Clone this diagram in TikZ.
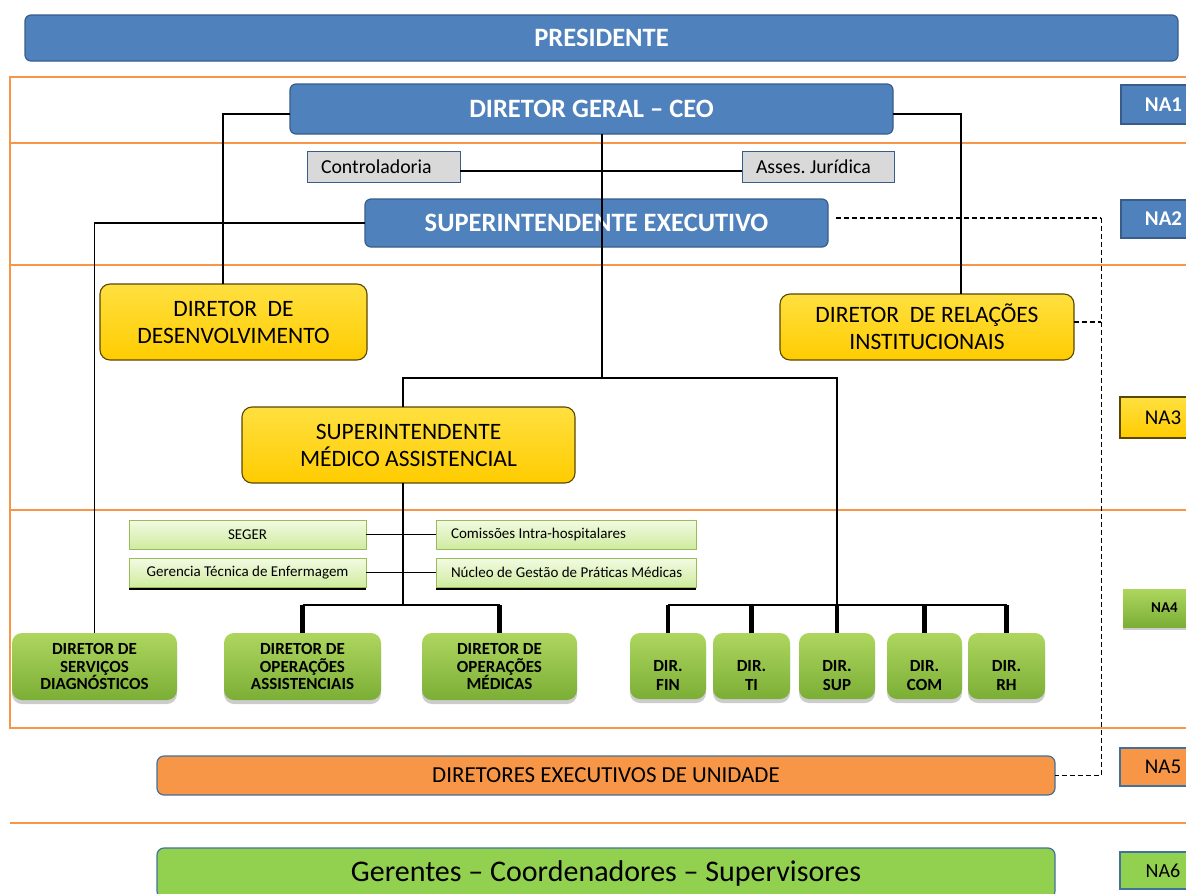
\documentclass[tikz,border=0pt]{standalone}
\usepackage{fontspec}
\setmainfont{Carlito}
\usetikzlibrary{shadows}
\frenchspacing

\definecolor{offblue}{HTML}{4F81BD}
\definecolor{offblueline}{HTML}{385D8A}
\definecolor{gridorange}{HTML}{F79646}
\definecolor{ctrlgray}{HTML}{D9D9D9}
\definecolor{yelTop}{HTML}{FFE040}
\definecolor{yelBot}{HTML}{FFCC00}
\definecolor{yelLine}{HTML}{5A4700}
\definecolor{grnTop}{HTML}{AED65F}
\definecolor{grnBot}{HTML}{7BAE35}
\definecolor{paleTop}{HTML}{F3FBE3}
\definecolor{paleBot}{HTML}{CFEBA0}
\definecolor{paleLine}{HTML}{9BBB59}
\definecolor{unitOrange}{HTML}{F79646}
\definecolor{mgrGreen}{HTML}{92D050}
\definecolor{slateLine}{HTML}{41719C}

% box from corner (x1,y1) to (x2,y2): style, name, x1, y1, x2, y2, text
\newcommand{\orgbox}[7]{%
  \node[#1, minimum width={(#5-#3)*1pt}, minimum height={(#6-#4)*1pt}]
    (#2) at ({(#3+#5)/2},{(#4+#6)/2}) {#7};}
% two-line label set a little below the middle of its box
\newcommand{\lowpair}[2]{\raisebox{-11pt}[\height][\depth]{%
  \begin{tabular}{@{}c@{}}#1\\#2\end{tabular}}}
% single line pushed to the left side of a field of given width
\newcommand{\flushtext}[2]{\makebox[#1][l]{#2}}

\tikzset{
  every node/.style={inner sep=0pt, outer sep=0pt, align=center},
  gridline/.style={draw=gridorange, line width=1.3pt},
  bluebar/.style={draw=offblueline, line width=1.2pt, fill=offblue, rounded corners=6pt,
    text=white, font=\bfseries\fontsize{26.5}{30}\selectfont},
  ctrlbox/.style={draw=offblueline, line width=1pt, fill=ctrlgray,
    font=\fontsize{19.8}{23}\selectfont},
  yelbox/.style={draw=yelLine, line width=1.1pt, top color=yelTop, bottom color=yelBot,
    rounded corners=10pt, font=\fontsize{23.5}{27}\selectfont},
  grnbox/.style={top color=grnTop, bottom color=grnBot, rounded corners=10pt,
    font=\bfseries\fontsize{17}{17.5}\selectfont,
    drop shadow={shadow xshift=0pt, shadow yshift=-4pt, fill=black!40, opacity=0.5}},
  dirbox/.style={grnbox, font=\bfseries\fontsize{17}{19}\selectfont},
  palebox/.style={draw=paleLine, line width=1pt, top color=paleTop, bottom color=paleBot,
    font=\fontsize{15}{17}\selectfont},
  palebar/.style={palebox,
    drop shadow={shadow xshift=0pt, shadow yshift=-3pt, fill=black, opacity=1}},
  unitbar/.style={draw=slateLine, line width=1.2pt, fill=unitOrange, rounded corners=7pt,
    font=\fontsize{22.9}{26}\selectfont},
  mgrbar/.style={draw=slateLine, line width=1.2pt, fill=mgrGreen, rounded corners=7pt,
    font=\fontsize{30}{34}\selectfont},
  nablue/.style={draw=offblueline, line width=1.2pt, fill=offblue, text=white,
    font=\bfseries\fontsize{21}{24}\selectfont},
  nayel/.style={draw=yelLine, line width=1.1pt, top color=yelTop, bottom color=yelBot,
    font=\fontsize{21}{24}\selectfont},
  nagrn/.style={top color=grnTop, bottom color=grnBot, font=\bfseries\fontsize{15}{18}\selectfont,
    drop shadow={shadow xshift=0pt, shadow yshift=-3pt, fill=black!40, opacity=0.5}},
  naorange/.style={draw=slateLine, line width=1.2pt, fill=unitOrange, font=\fontsize{21}{24}\selectfont},
  nalime/.style={draw=slateLine, line width=1.2pt, fill=mgrGreen, font=\fontsize{20}{24}\selectfont},
  trunk/.style={draw=black, line width=2.6pt},
  stub/.style={draw=black, line width=4.5pt},
  thinlink/.style={draw=black, line width=1.4pt},
  dashlink/.style={draw=black, line width=1.8pt, dash pattern=on 5pt off 3pt},
  dashthin/.style={draw=black, line width=1pt, dash pattern=on 5pt off 3pt},
}

\begin{document}
\begin{tikzpicture}[x=1pt,y=-1pt]
\useasboundingbox (0,0) rectangle (1186,894);
\clip (0,0) rectangle (1186,894);

% level bands
\draw[gridline] (1200,77) -- (10,77) -- (10,728) -- (1200,728);
\draw[gridline] (10,143) -- (1200,143);
\draw[gridline] (10,265) -- (1200,265);
\draw[gridline] (10,510) -- (1200,510);
\draw[gridline] (10,823) -- (1200,823);

% boxes
\orgbox{bluebar}{pres}{25}{15}{1178}{61}{PRESIDENTE}
\orgbox{bluebar}{ceo}{290}{84}{893}{134}{DIRETOR GERAL – CEO}
\orgbox{ctrlbox}{contr}{307}{151}{460}{182}{\flushtext{125pt}{Controladoria}}
\orgbox{ctrlbox}{asses}{742}{151}{894}{182}{\flushtext{124pt}{Asses. Jurídica}}
\orgbox{bluebar}{supexec}{365}{199}{828}{247}{SUPERINTENDENTE EXECUTIVO}

\orgbox{yelbox}{desenv}{100}{284}{367}{360}{DIRETOR\ \ DE\\DESENVOLVIMENTO}
\orgbox{yelbox}{relac}{780}{294}{1074}{360}{DIRETOR\ \ DE RELAÇÕES\\INSTITUCIONAIS}
\orgbox{yelbox}{supmed}{242}{407}{575}{483}{SUPERINTENDENTE\\MÉDICO ASSISTENCIAL}

\orgbox{palebox}{seger}{129}{520}{366}{549}{SEGER}
\orgbox{palebar}{geren}{129}{558}{366}{587}{Gerencia Técnica de Enfermagem}
\orgbox{palebox}{comis}{436}{520}{696}{549}{\flushtext{230pt}{Comissões Intra-hospitalares}}
\orgbox{palebar}{nucleo}{436}{558}{696}{587}{\flushtext{230pt}{Núcleo de Gestão de Práticas Médicas}}

\orgbox{grnbox}{diag}{12}{633}{177}{700}{DIRETOR DE\\SERVIÇOS\\DIAGNÓSTICOS}
\orgbox{grnbox}{opassist}{224}{633}{381}{700}{DIRETOR DE\\OPERAÇÕES\\ASSISTENCIAIS}
\orgbox{grnbox}{opmed}{422}{633}{577}{700}{DIRETOR DE\\OPERAÇÕES\\MÉDICAS}

\orgbox{dirbox}{fin}{630}{633}{706}{699}{\lowpair{DIR.}{FIN}}
\orgbox{dirbox}{ti}{713}{633}{790}{699}{\lowpair{DIR.}{TI}}
\orgbox{dirbox}{sup}{799}{633}{875}{699}{\lowpair{DIR.}{SUP}}
\orgbox{dirbox}{com}{887}{633}{962}{699}{\lowpair{DIR.}{COM}}
\orgbox{dirbox}{rh}{968}{633}{1045}{699}{\lowpair{DIR.}{RH}}

\orgbox{unitbar}{unidade}{157}{756}{1055}{795}{DIRETORES EXECUTIVOS DE UNIDADE}
\orgbox{mgrbar}{gerentes}{157}{848}{1055}{898}{Gerentes – Coordenadores – Supervisores}

% level tags
\orgbox{nablue}{na1}{1121}{85}{1206}{124}{NA1}
\orgbox{nablue}{na2}{1121}{200}{1206}{238}{NA2}
\orgbox{nayel}{na3}{1120}{397}{1206}{438}{NA3}
\orgbox{nagrn}{na4}{1123}{589}{1206}{627}{NA4}
\orgbox{naorange}{na5}{1120}{748}{1206}{786}{NA5}
\orgbox{nalime}{na6}{1120}{852}{1206}{889}{NA6}

% reporting lines
\coordinate (hubA) at (602,378);
\coordinate (busR) at (837,605);
\coordinate (busL) at (403,605);
\coordinate (dashTop) at (1101,218);

\draw[thinlink] ([yshift=-4.5pt]contr.east) -- ([yshift=-4.5pt]asses.west);
\draw[thinlink] (supexec.west) -| (diag.north);
\draw[trunk] ([yshift=-5pt]ceo.west) -| ([xshift=-10.5pt]desenv.north);
\draw[trunk] ([yshift=-5pt]ceo.east) -| ([xshift=34pt]relac.north);
\draw[trunk] ([xshift=10.5pt]ceo.south) -- (hubA);
\draw[trunk] ([xshift=-5.5pt]supmed.north) |- (hubA) -| (busR);

\draw[thinlink] (seger.east) -- (comis.west);
\draw[thinlink] (geren.east) -- (nucleo.west);
\draw[trunk] ([xshift=-5.5pt]supmed.south) -- (busL);
\draw[trunk] (opassist.north |- busL) -- (opmed.north |- busL);
\draw[stub] (opassist.north) -- (opassist.north |- busL);
\draw[stub] (opmed.north) -- (opmed.north |- busL);

\draw[trunk] (fin.north |- busR) -- (rh.north |- busR);
\foreach \d in {fin,ti,sup,com,rh}
  \draw[stub] (\d.north) -- (\d.north |- busR);

% dotted links to the unit directors
\draw[dashlink] ([shift={(8pt,5pt)}]supexec.east) -- (dashTop);
\draw[dashthin] (dashTop) |- (unidade.east);
\draw[dashlink] ([yshift=5pt]relac.east) -- ([yshift=5pt]relac.east -| dashTop);
\end{tikzpicture}
\end{document}
